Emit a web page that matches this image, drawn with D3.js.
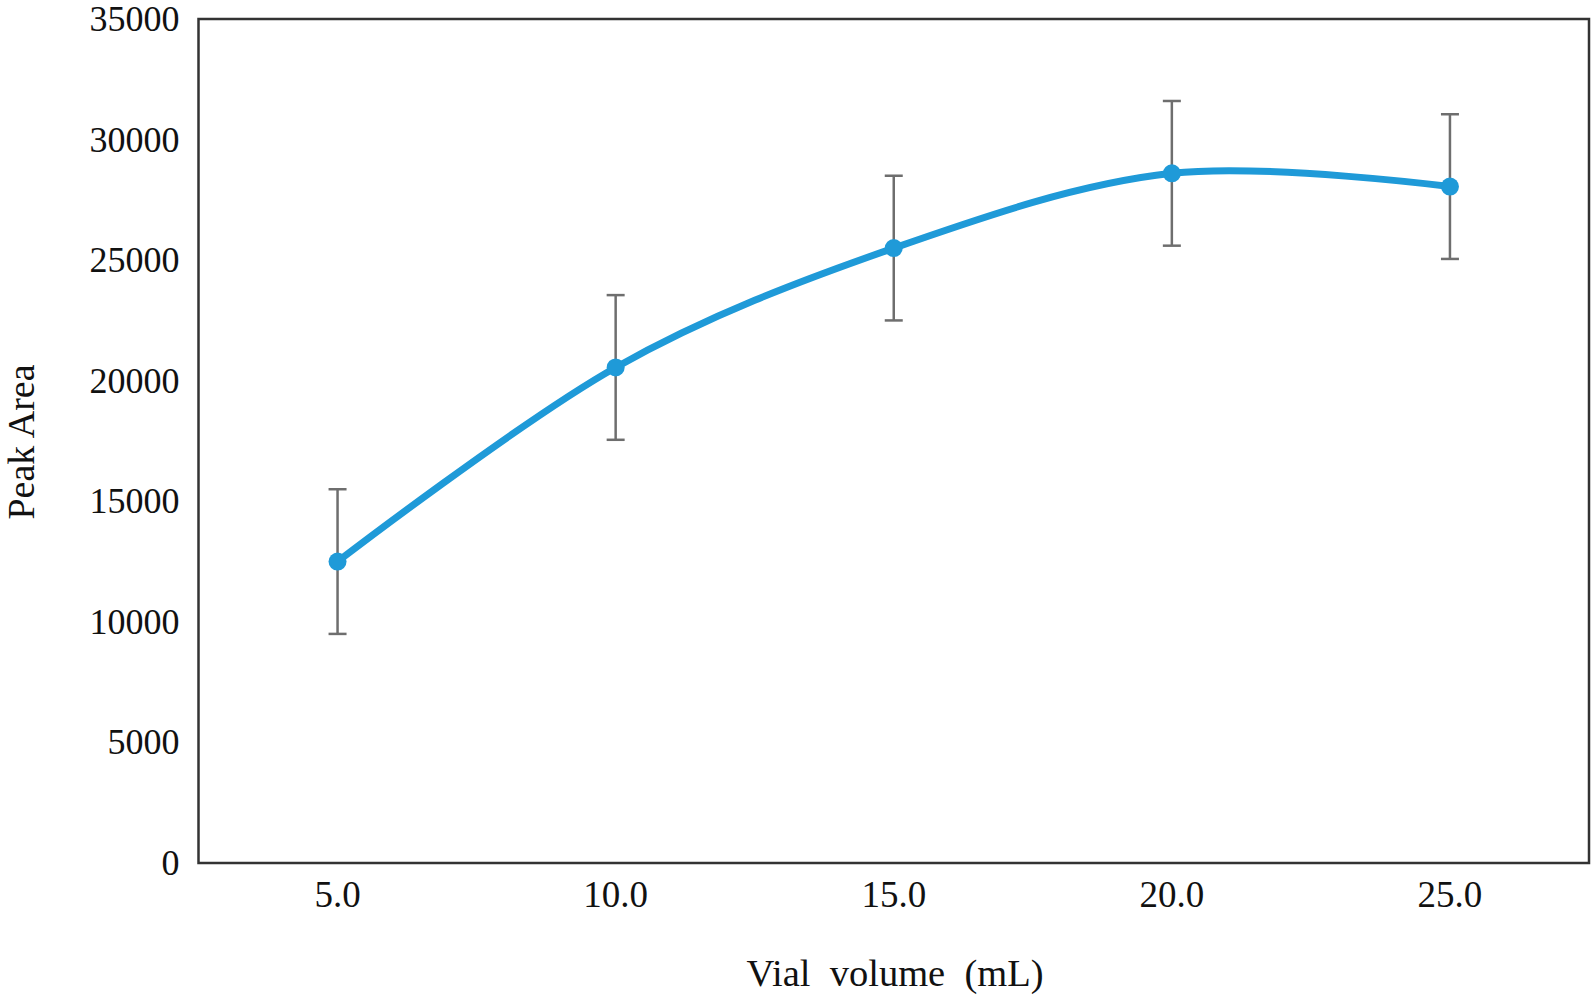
<!DOCTYPE html>
<html><head><meta charset="utf-8">
<script src="https://cdn.jsdelivr.net/npm/d3@7"></script>
<style>html,body{margin:0;padding:0;background:#fff;}svg{display:block;}</style>
</head><body>
<script>
const categories = ["5.0", "10.0", "15.0", "20.0", "25.0"];
const peakArea = [12500, 20550, 25500, 28600, 28050];
const errorValues = [3000, 3000, 3000, 3000, 3000];
const yTicks = [0, 5000, 10000, 15000, 20000, 25000, 30000, 35000];

const W = 1593, H = 998;
const m = {left: 198.5, right: 1593 - 1589, top: 19, bottom: 998 - 863};
const svg = d3.select("body").append("svg").attr("width", W).attr("height", H);
const x = d3.scaleBand().domain(categories).range([m.left, W - m.right]);
const y = d3.scaleLinear().domain([0, 35000]).range([H - m.bottom, m.top]);
const font = "'Liberation Serif','Times New Roman',serif";

const yAxis = d3.axisLeft(y).tickValues(yTicks).tickSize(0).tickPadding(19).tickFormat(d3.format("d"));
const gy = svg.append("g").attr("transform", `translate(${m.left},0)`).call(yAxis);
gy.select(".domain").remove();
gy.selectAll("text").attr("font-family", font).attr("font-size", 36).attr("fill", "#111");

const xAxis = d3.axisBottom(x).tickSize(0).tickPadding(18);
const gx = svg.append("g").attr("transform", `translate(0,${H - m.bottom})`).call(xAxis);
gx.select(".domain").remove();
gx.selectAll("text").attr("font-family", font).attr("font-size", 37).attr("fill", "#111");

svg.append("rect").attr("x", m.left).attr("y", m.top)
  .attr("width", W - m.right - m.left).attr("height", H - m.bottom - m.top)
  .attr("fill", "none").attr("stroke", "#333").attr("stroke-width", 2.5);

const cx = d => x(d) + x.bandwidth() / 2;
const data = categories.map((c, i) => ({c, v: peakArea[i], e: errorValues[i]}));

const eb = svg.append("g").attr("stroke", "#6e6e6e").attr("stroke-width", 2.5);
data.forEach(d => {
  eb.append("line").attr("x1", cx(d.c)).attr("x2", cx(d.c)).attr("y1", y(d.v + d.e)).attr("y2", y(d.v - d.e));
  [d.v + d.e, d.v - d.e].forEach(v => eb.append("line").attr("x1", cx(d.c) - 9).attr("x2", cx(d.c) + 9).attr("y1", y(v)).attr("y2", y(v)));
});

const line = d3.line().x(d => cx(d.c)).y(d => y(d.v)).curve(d3.curveCardinal.tension(0));
svg.append("path").datum(data).attr("d", line).attr("fill", "none")
  .attr("stroke", "#1f9ad8").attr("stroke-width", 7).attr("stroke-linecap", "round");
svg.append("g").selectAll("circle").data(data).join("circle")
  .attr("cx", d => cx(d.c)).attr("cy", d => y(d.v)).attr("r", 9).attr("fill", "#1f9ad8");

svg.append("text").attr("x", 895).attr("y", 986).attr("text-anchor", "middle")
  .attr("font-family", font).attr("font-size", 38.5).attr("fill", "#111").style("white-space", "pre")
  .text("Vial  volume  (mL)");
svg.append("text").attr("transform", "translate(34,442) rotate(-90)").attr("text-anchor", "middle")
  .attr("font-family", font).attr("font-size", 38).attr("fill", "#111")
  .text("Peak Area");
</script>
</body></html>
